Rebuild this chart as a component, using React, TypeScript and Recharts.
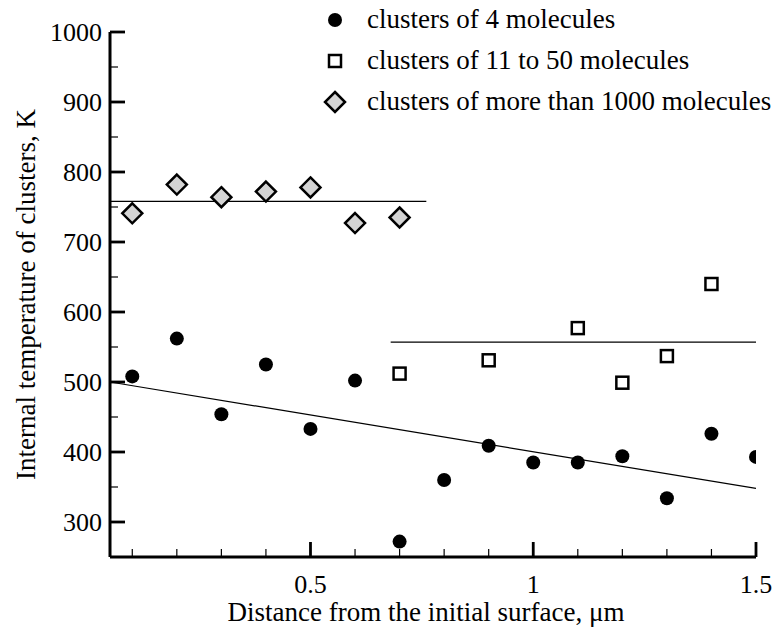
import React from "react";
import {Legend, ReferenceLine, Scatter, ScatterChart, XAxis, YAxis} from "recharts";

const FONT = '"Liberation Serif", "Times New Roman", serif';

// clusters of 4 molecules
const smallX = [0.1, 0.2, 0.3, 0.4, 0.5, 0.6, 0.7, 0.8, 0.9, 1.0, 1.1, 1.2, 1.3, 1.4, 1.5];
const smallT = [508, 562, 454, 525, 433, 502, 272, 360, 409, 385, 385, 394, 334, 426, 393];
// clusters of 11 to 50 molecules
const midX = [0.7, 0.9, 1.1, 1.2, 1.3, 1.4];
const midT = [512, 531, 577, 499, 537, 640];
// clusters of more than 1000 molecules
const largeX = [0.1, 0.2, 0.3, 0.4, 0.5, 0.6, 0.7];
const largeT = [741, 782, 764, 772, 778, 727, 735];

// fitted lines
const smallFitX = [0.05, 1.5];
const smallFitT = [500, 348];
const midFitX = [0.68, 1.5];
const midFitT = [557, 557];
const largeFitX = [0.05, 0.76];
const largeFitT = [758, 758];

const xDomain = [0.05, 1.5];
const yDomain = [250, 1000];
const xTicks = [0.1, 0.2, 0.3, 0.4, 0.5, 0.6, 0.7, 0.8, 0.9, 1, 1.1, 1.2, 1.3, 1.4, 1.5];
const xMajor = [0.5, 1, 1.5];
const yTicks = [300, 350, 400, 450, 500, 550, 600, 650, 700, 750, 800, 850, 900, 950, 1000];
const yMajor = [300, 400, 500, 600, 700, 800, 900, 1000];

const legendLabels = [
  "clusters of 4 molecules",
  "clusters of 11 to 50 molecules",
  "clusters of more than 1000 molecules",
];

const pts = (xs: number[], ts: number[]) => xs.map((x, i) => ({x, t: ts[i]}));

const Dot = ({cx, cy}: any) => <circle cx={cx} cy={cy} r={7} fill="#000" />;
const Square = ({cx, cy}: any) => (
  <rect x={cx - 6} y={cy - 6} width={12} height={12} fill="#fff" stroke="#000" strokeWidth={2.5} />
);
const Diamond = ({cx, cy}: any) => (
  <path d={`M${cx},${cy - 10}L${cx + 10},${cy}L${cx},${cy + 10}L${cx - 10},${cy}Z`} fill="#d4d4d4" stroke="#000" strokeWidth={2.5} />
);
const Nothing = () => <g />;

const XTick = ({x, y, payload}: any) => {
  const major = xMajor.includes(payload.value);
  return (
    <g>
      <line x1={x} x2={x} y1={y} y2={y - (major ? 15 : 8)} stroke="#000" strokeWidth={major ? 2.8 : 1.2} />
      {major && (
        <text x={x} y={y + 36} textAnchor="middle" fontFamily={FONT} fontSize={26} fill="#000">
          {payload.value}
        </text>
      )}
    </g>
  );
};

const YTick = ({x, y, payload}: any) => {
  const major = yMajor.includes(payload.value);
  return (
    <g>
      <line x1={x} x2={x + (major ? 15 : 8)} y1={y} y2={y} stroke="#000" strokeWidth={major ? 2.8 : 1.2} />
      {major && (
        <text x={x - 8} y={y} dy="0.34em" textAnchor="end" fontFamily={FONT} fontSize={26} fill="#000">
          {payload.value}
        </text>
      )}
    </g>
  );
};

const legendIcons = [
  <circle cx={12} cy={12} r={7} fill="#000" />,
  <rect x={6} y={6} width={12} height={12} fill="#fff" stroke="#000" strokeWidth={2.5} />,
  <path d="M12,2L22,12L12,22L2,12Z" fill="#d4d4d4" stroke="#000" strokeWidth={2.5} />,
];

const renderLegend = () => (
  <div style={{fontFamily: FONT, fontSize: 27, color: "#000"}}>
    {legendLabels.map((label, i) => (
      <div key={label} style={{display: "flex", alignItems: "center", height: 41, whiteSpace: "nowrap"}}>
        <svg width={24} height={24} style={{marginRight: 20}}>
          {legendIcons[i]}
        </svg>
        <span>{label}</span>
      </div>
    ))}
  </div>
);

export default function App() {
  return (
    <div style={{position: "absolute", left: 0, top: 0, background: "#fff"}}>
      <ScatterChart width={775} height={634} margin={{top: 32, right: 19, left: 0, bottom: 0}}>
        <XAxis
          type="number"
          dataKey="x"
          domain={xDomain}
          ticks={xTicks}
          interval={0}
          allowDataOverflow
          height={77}
          tickSize={0}
          tickMargin={0}
          tickLine={false}
          tick={<XTick />}
          axisLine={false}
          label={{
            value: "Distance from the initial surface, \u03bcm",
            position: "insideBottom",
            offset: 13,
            dx: -7,
            style: {fontFamily: FONT, fontSize: 27, fill: "#000"},
          }}
        />
        <YAxis
          type="number"
          dataKey="t"
          domain={yDomain}
          ticks={yTicks}
          interval={0}
          allowDataOverflow
          width={110}
          tickSize={0}
          tickMargin={0}
          tickLine={false}
          tick={<YTick />}
          axisLine={false}
          label={{
            value: "Internal temperature of clusters, K",
            angle: -90,
            position: "insideLeft",
            offset: 25,
            style: {fontFamily: FONT, fontSize: 27, fill: "#000", textAnchor: "middle"},
          }}
        />
        <ReferenceLine x={xDomain[0]} stroke="#000" strokeWidth={3} />
        <ReferenceLine y={yDomain[0]} stroke="#000" strokeWidth={3} />
        <Legend
          layout="vertical"
          align="center"
          verticalAlign="middle"
          content={renderLegend}
          wrapperStyle={{top: -1, left: 323, width: 450}}
        />
        <Scatter data={pts(largeFitX, largeFitT)} line={{stroke: "#000", strokeWidth: 1.2}} shape={<Nothing />} legendType="none" isAnimationActive={false} />
        <Scatter data={pts(midFitX, midFitT)} line={{stroke: "#000", strokeWidth: 1.2}} shape={<Nothing />} legendType="none" isAnimationActive={false} />
        <Scatter data={pts(smallFitX, smallFitT)} line={{stroke: "#000", strokeWidth: 1.2}} shape={<Nothing />} legendType="none" isAnimationActive={false} />
        <Scatter data={pts(smallX, smallT)} shape={<Dot />} isAnimationActive={false} />
        <Scatter data={pts(midX, midT)} shape={<Square />} isAnimationActive={false} />
        <Scatter data={pts(largeX, largeT)} shape={<Diamond />} isAnimationActive={false} />
      </ScatterChart>
    </div>
  );
}
